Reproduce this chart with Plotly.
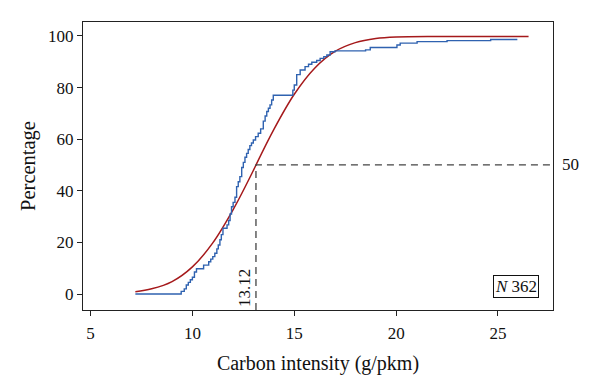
import plotly.graph_objects as go

ecdf_x = [7.2, 9.3, 9.45, 9.6, 9.7, 9.8, 9.9, 10.0, 10.1, 10.2, 10.55, 10.8, 10.9, 11.0,
          11.1, 11.2, 11.27, 11.35, 11.42, 11.5, 11.7, 11.78, 11.85, 11.92, 12.0, 12.09,
          12.17, 12.25, 12.33, 12.42, 12.5, 12.58, 12.66, 12.74, 12.82, 12.9, 12.99, 13.1,
          13.23, 13.35, 13.48, 13.57, 13.65, 13.73, 13.81, 13.89, 13.97, 14.93, 15.0, 15.12,
          15.29, 15.53, 15.7, 15.86, 16.1, 16.27, 16.45, 16.6, 16.76, 17.0, 18.5, 18.73,
          20.04, 20.2, 21.03, 22.5, 24.64, 25.95]
ecdf_y = [0, 0, 1.0, 2, 3.5, 4.5, 5.5, 6.5, 8.5, 9.8, 11.2, 12.5, 13.5, 14.5,
          15.8, 17.5, 19, 21, 23, 25.5, 26.8, 28.5, 31, 33.8, 35.5, 37.5,
          41.6, 43.5, 45.5, 49, 51, 53, 54.5, 56, 57.5, 58.5, 59.7, 61,
          62.3, 64, 67, 69, 70.7, 72, 73.3, 75.2, 77.0, 79, 81, 85,
          86.8, 88.1, 89, 89.8, 90.5, 91.3, 92, 92.6, 93.9, 94.2, 94.6, 95.5,
          96.5, 97.2, 97.8, 98.2, 98.6, 98.6]

# Fitted distribution (red smooth curve)
fit_x = [7.2, 8, 9, 10, 11, 12, 13, 13.12, 14, 15, 16, 17, 18, 19, 20, 22, 24, 26.5]
fit_y = [0.9, 2, 4.8, 10.5, 19.8, 32.7, 48, 50, 63.8, 77.4, 87.5, 94, 97.4, 99.0, 99.6, 99.8, 99.8, 99.8]

median_x = 13.12
median_y = 50
n_obs = 362

x_ticks = [5, 10, 15, 20, 25]
y_ticks = [0, 20, 40, 60, 80, 100]
x_range = [4.63, 27.7]
y_range = [-6.2, 105.4]

FONT = "Liberation Serif"
BLUE = "#2f62b0"
RED = "#a5191b"
DASH = "#444444"

fig = go.Figure()
fig.add_trace(go.Scatter(x=fit_x, y=fit_y, mode="lines", line=dict(color=RED, width=1.5, shape="spline"),
                         showlegend=False, hoverinfo="skip"))
fig.add_trace(go.Scatter(x=ecdf_x, y=ecdf_y, mode="lines", line=dict(color=BLUE, width=1.4, shape="hv"),
                         showlegend=False, hoverinfo="skip"))

# reference dashed lines at the median
fig.add_trace(go.Scatter(x=[median_x, median_x, x_range[1]], y=[y_range[0], median_y, median_y], mode="lines",
                         line=dict(color=DASH, width=1.3, dash="7px,5px"), showlegend=False, hoverinfo="skip"))

fig.add_annotation(x=1.0, xref="paper", y=median_y, yref="y", text=str(median_y), showarrow=False,
                   xanchor="left", xshift=7, font=dict(family=FONT, size=17, color="#111"))
fig.add_annotation(x=median_x, xref="x", y=2.3, yref="y", text=f"{median_x:.2f}", showarrow=False,
                   textangle=-90, xshift=-12, font=dict(family=FONT, size=17, color="#111"))
fig.add_annotation(x=0.921, xref="paper", y=0.082, yref="paper", text=f"<i>N</i> {n_obs}", showarrow=False,
                   xanchor="center", yanchor="middle",
                   bordercolor="#111", borderwidth=1, borderpad=1, bgcolor="white",
                   font=dict(family=FONT, size=17, color="#111"))

axis_common = dict(showline=True, linecolor="#222", linewidth=1.2, mirror=True, ticks="outside",
                   ticklen=5, tickwidth=1.1, tickcolor="#222", showgrid=False, zeroline=False,
                   tickfont=dict(family=FONT, size=17, color="#111"))
fig.update_xaxes(range=x_range, tickvals=x_ticks, ticklabelstandoff=2,
                 title=dict(text="Carbon intensity (g/pkm)",
                            font=dict(family=FONT, size=20, color="#111"), standoff=14), **axis_common)
fig.update_yaxes(range=y_range, tickvals=y_ticks, title=dict(text="Percentage",
                 font=dict(family=FONT, size=20.5, color="#111"), standoff=6), **axis_common)

# page body adds an 8px offset; size the figure so the plot box lands where the reference has it
fig.update_layout(width=592, height=378, margin=dict(l=75, r=47, t=14, b=76),
                  plot_bgcolor="white", paper_bgcolor="white")
fig.write_html("out.html")
